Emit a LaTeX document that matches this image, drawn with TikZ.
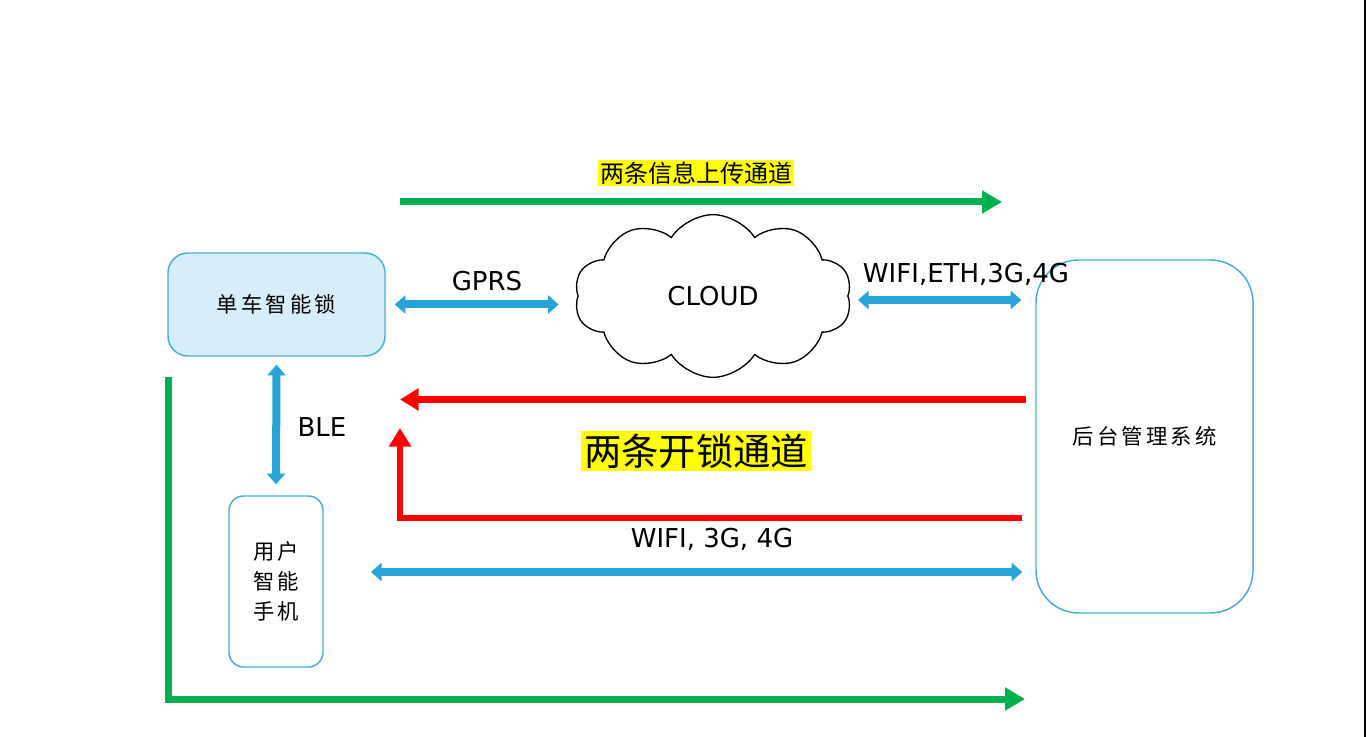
\documentclass[tikz,border=0pt]{standalone}
\usepackage{fontspec}
\setmainfont{DejaVu Sans}
\newfontfamily\cjk{Noto Sans CJK SC}
\usetikzlibrary{arrows.meta,shapes.symbols,calc}
\definecolor{cgreen}{HTML}{00B050}
\definecolor{cred}{HTML}{FF0000}
\definecolor{cblue}{HTML}{27A3DA}
\definecolor{cbord}{HTML}{45AED6}
\definecolor{cfill}{HTML}{D6EEF9}
\definecolor{cyel}{HTML}{FFFF00}
\begin{document}
\begin{tikzpicture}[x=0.75pt,y=-0.75pt,
  boxtext/.style={font=\cjk\addfontfeature{LetterSpace=15}\fontsize{16}{22.5}\selectfont},
  sysbox/.style={draw=cbord, line width=1.1pt, align=center, inner sep=0pt, boxtext},
  greenarrow/.style={draw=cgreen, line width=5.25pt, -{Triangle[length=15pt,width=16.5pt]}},
  redarrow/.style={draw=cred, line width=5pt, -{Triangle[length=14pt,width=16pt]}},
  bluearrow/.style={draw=cblue, line width=6pt, {Triangle[length=8pt,width=13.5pt]}-{Triangle[length=8pt,width=13.5pt]}},
  netlabel/.style={font=\fontsize{19.5}{22}\selectfont, inner sep=1pt},
  hilite/.style={fill=cyel, inner sep=1.5pt},
]
\useasboundingbox (0,0) rectangle (1366,737);
\fill[white] (0,0) rectangle (1366,737);
\draw[line width=1.3pt] (1365,0) -- (1365,737);

% nodes
\node[sysbox, fill=cfill, rounded corners=15pt, minimum width=162.75pt, minimum height=77.25pt] (lock) at (276.5,304.5) {单车智能锁};
\node[sysbox, rounded corners=11pt, minimum width=70.5pt, minimum height=128.25pt] (phone) at (276,581.5) {用户\\智能\\手机};
\node[sysbox, rounded corners=32pt, minimum width=162.75pt, minimum height=264.75pt] (backend) at (1144.5,436.5) {后台管理系统};
\node[cloud, draw, line width=1pt, cloud puffs=10, cloud puff arc=115, aspect=1.7, minimum width=208pt, minimum height=122pt, inner sep=0pt, font=\fontsize{19.5}{22}\selectfont] (cloud) at (713,296) {CLOUD};

% free ends
\coordinate (up1) at (400,202);
\coordinate (up2) at (1002,202);
\coordinate (gs) at (168,377);
\coordinate (gc) at (168,699);
\coordinate (ge) at (1025,699);
\coordinate (r1s) at (1026,399.5);
\coordinate (r1e) at (400,399.5);
\coordinate (r2s) at (1022,518);
\coordinate (r2c) at (400,518);
\coordinate (r2e) at (400,428);
\coordinate (wl) at (371,572);
\coordinate (el) at (858,300);

% connectors
\draw[greenarrow] (up1) -- (up2);
\draw[greenarrow] (gs) -- (gc) -- (ge);
\draw[redarrow] (r1s) -- (r1e);
\draw[redarrow] (r2s) -- (r2c) -- (r2e);
\draw[bluearrow] ([xshift=6.75pt]lock.east) -- ([xshift=6.75pt+123pt]lock.east);
\draw[bluearrow] (el) -- ([xshift=-10.5pt]backend.west |- el);
\draw[bluearrow] ([yshift=-6pt]lock.south) -- ([yshift=8.25pt]phone.north);
\draw[bluearrow] (wl) -- ([xshift=-9.75pt]backend.west |- wl);

% labels
\node[hilite, font=\cjk\fontsize{18}{20}\selectfont] (uplabel) at (696,173) {两条信息上传通道};
\node[hilite, font=\cjk\fontsize{28}{30}\selectfont, inner sep=2pt] (unlocklabel) at (696,451) {两条开锁通道};
\node[netlabel] (gprs) at (487,281) {GPRS};
\node[netlabel] (wifi1) at (966,274) {WIFI,ETH,3G,4G};
\node[netlabel] (wifi2) at (712,539) {WIFI, 3G, 4G};
\node[netlabel] (ble) at (322,427) {BLE};
\end{tikzpicture}
\end{document}
